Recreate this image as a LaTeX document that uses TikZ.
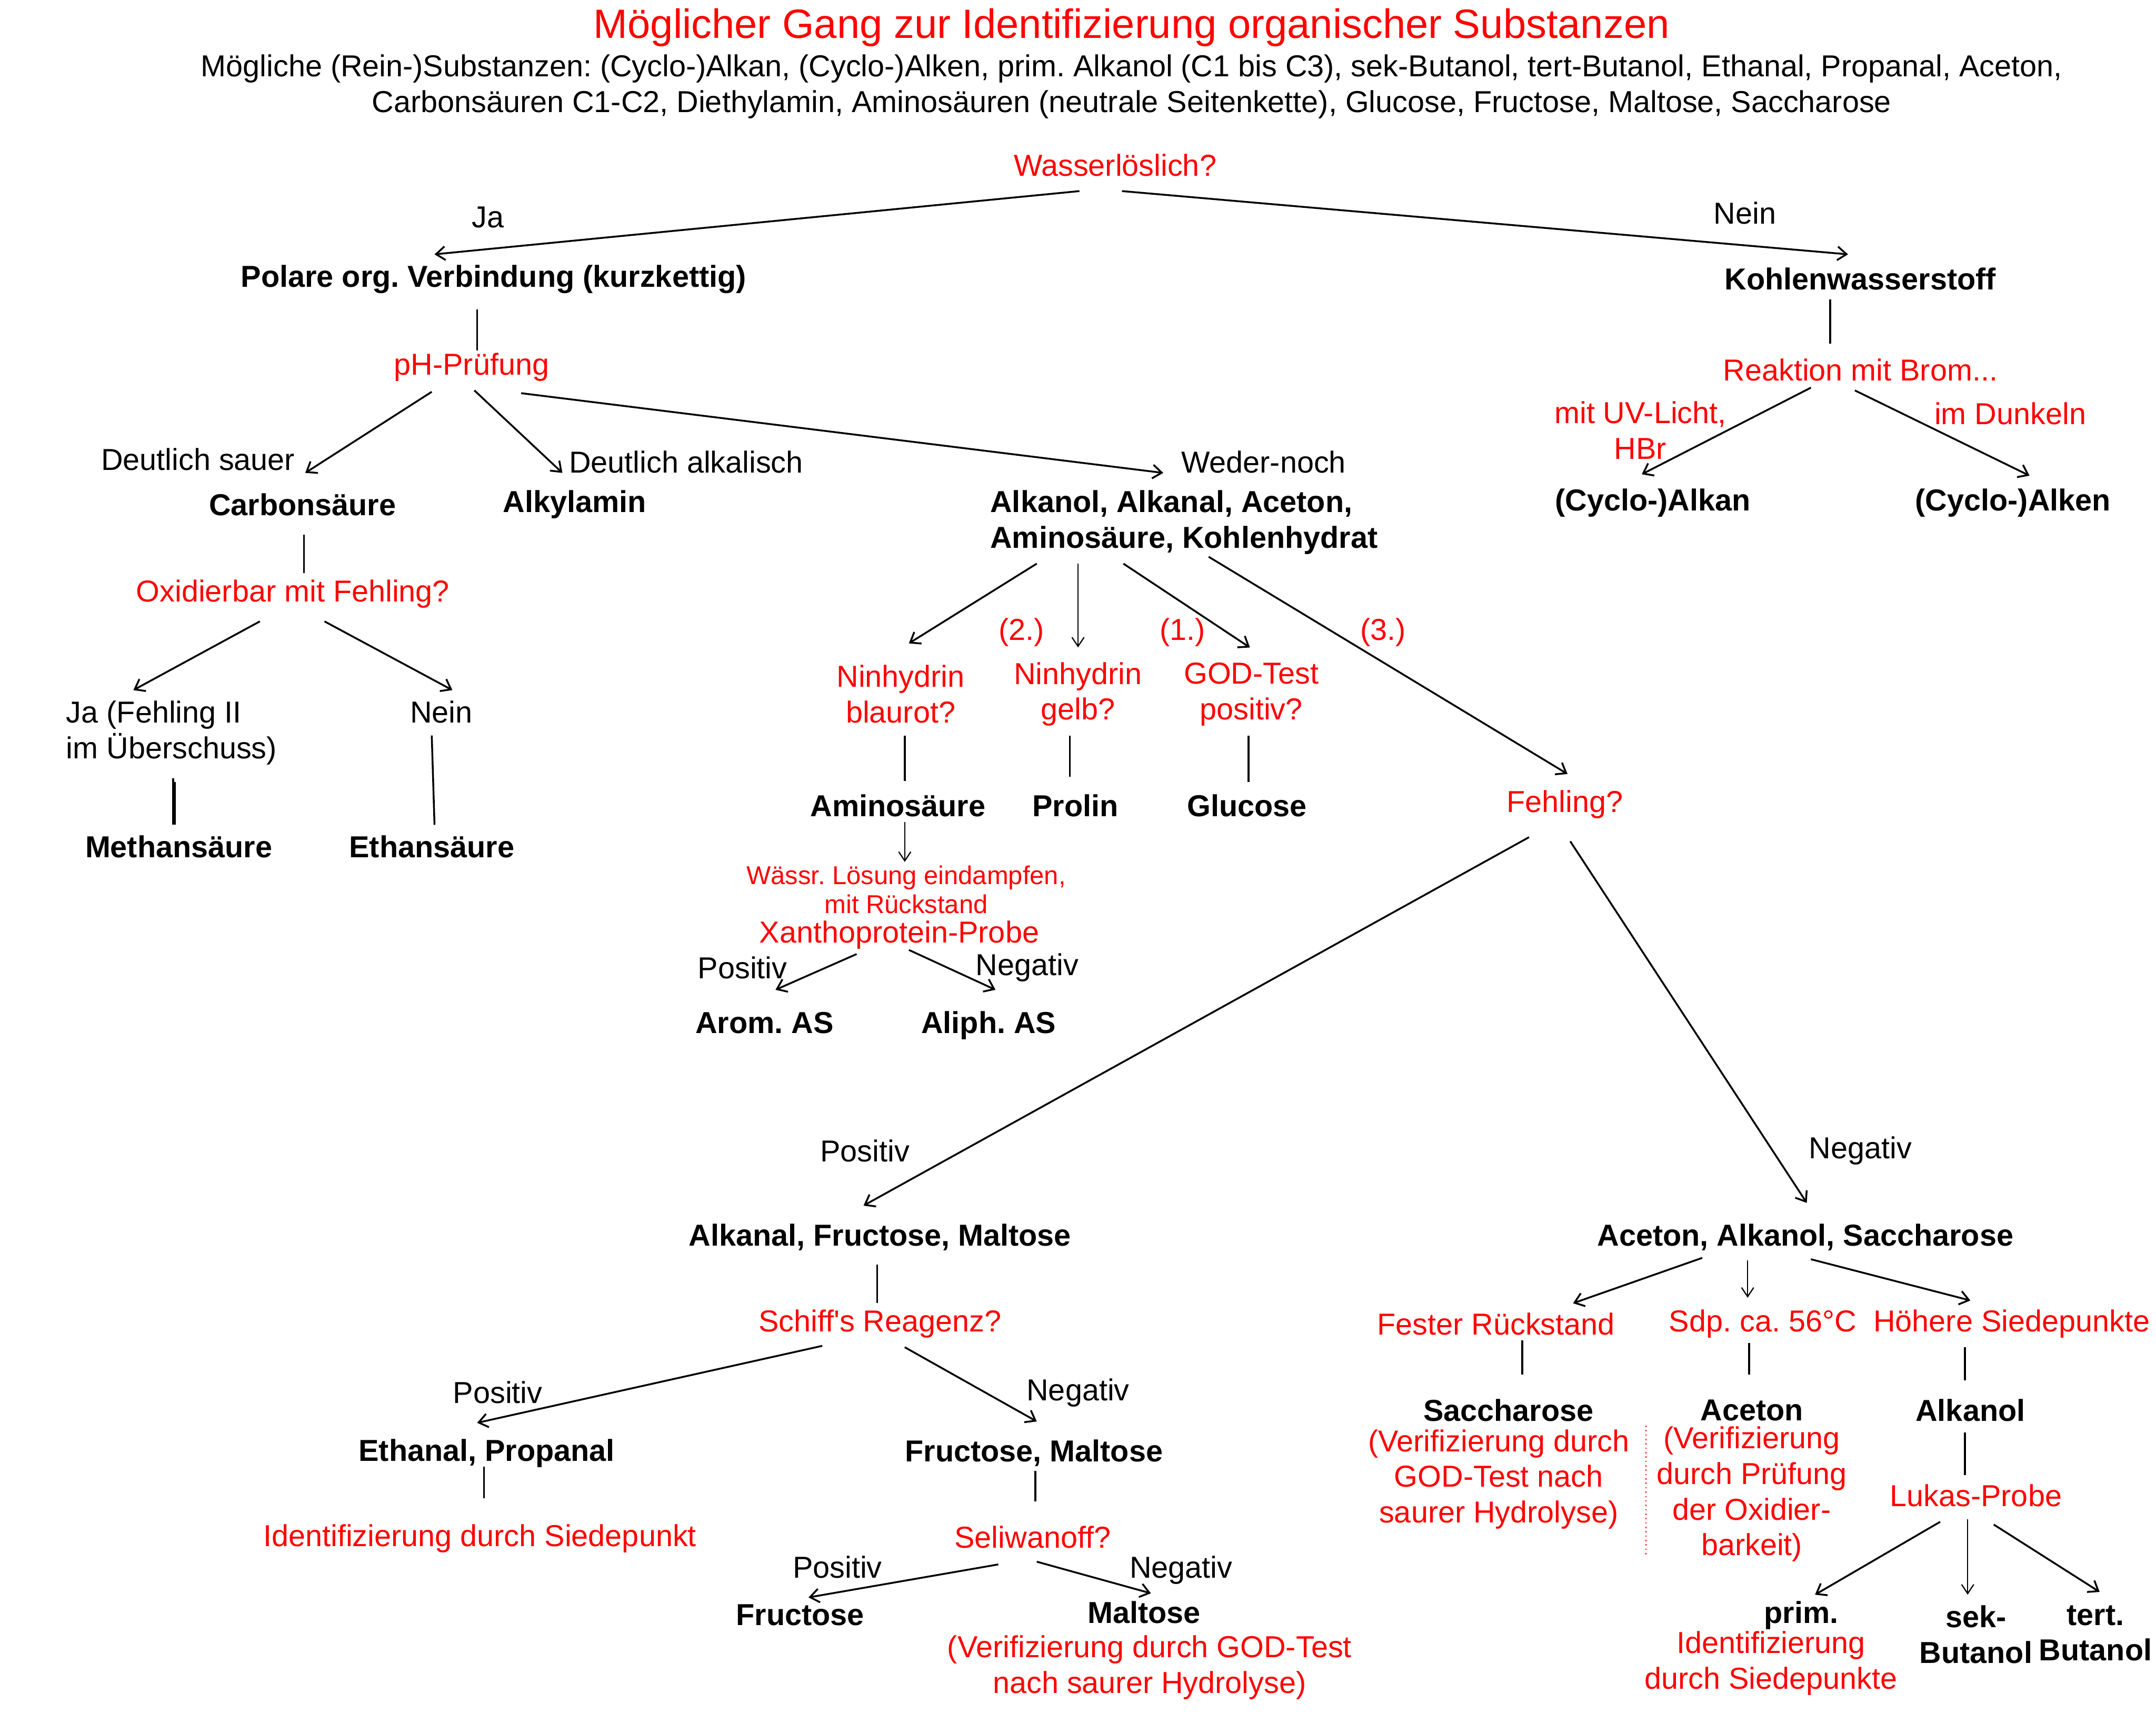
\documentclass[tikz,border=0pt]{standalone}
\usepackage{fontspec}
\setmainfont{Liberation Sans}
\usetikzlibrary{arrows.meta}
\definecolor{qred}{RGB}{255,0,0}
\frenchspacing
\begin{document}
\begin{tikzpicture}[x=0.3189mm,y=-0.3189mm,
  every node/.style={inner sep=0pt, align=center, font=\fontsize{20}{23.5}\selectfont},
  q/.style={text=qred},
  bx/.style={font=\bfseries\fontsize{20}{23.5}\selectfont},
  sm/.style={font=\fontsize{17}{19}\selectfont, text=qred},
  tt/.style={font=\fontsize{27}{30}\selectfont, text=qred},
  ln/.style={line width=1.2pt},
  arr/.style={line width=1.2pt, -{Straight Barb[length=6pt,width=9pt]}},
  arrthin/.style={line width=0.8pt, -{Straight Barb[length=6pt,width=8pt]}},
  dotline/.style={qred, line width=0.9pt, dotted}
]
\useasboundingbox (0,0) rectangle (1568,1254);

% ---------- texts ----------
\node[tt] (title) at (823,20) {Möglicher Gang zur Identifizierung organischer Substanzen};
\node (sub) at (823,63) {Mögliche (Rein-)Substanzen: (Cyclo-)Alkan, (Cyclo-)Alken, prim. Alkanol (C1 bis C3), sek-Butanol, tert-Butanol, Ethanal, Propanal, Aceton,\\Carbonsäuren C1-C2, Diethylamin, Aminosäuren (neutrale Seitenkette), Glucose, Fructose, Maltose, Saccharose};

\node[q] (wass) at (811,120) {Wasserlöslich?};
\node (ja) at (355,158) {Ja};
\node (nein) at (1269,155) {Nein};
\node[bx] (polare) at (359,203) {Polare org. Verbindung (kurzkettig)};
\node[bx] (kw) at (1353,203) {Kohlenwasserstoff};

\node[q] (ph) at (343,267) {pH-Prüfung};
\node (sauer) at (144,334) {Deutlich sauer};
\node (alkal) at (499,336) {Deutlich alkalisch};
\node (weder) at (919,336) {Weder-noch};
\node[bx] (carbon) at (220,367) {Carbonsäure};
\node[bx] (alkylamin) at (418,367) {Alkylamin};
\node[bx, align=left, anchor=west] (mix) at (720,380) {Alkanol, Alkanal, Aceton,\\Aminosäure, Kohlenhydrat};

\node[q] (oxid) at (213,432) {Oxidierbar mit Fehling?};
\node[align=left, anchor=west] (jaF) at (48,533) {Ja (Fehling II\\im Überschuss)};
\node (neinF) at (321,518) {Nein};
\node[bx] (methan) at (130,616) {Methansäure};
\node[bx] (ethan) at (314,616) {Ethansäure};

\node[q] (n2) at (743,460) {(2.)};
\node[q] (n1) at (860,460) {(1.)};
\node[q] (n3) at (1006,460) {(3.)};
\node[q] (ninb) at (655,505) {Ninhydrin\\blaurot?};
\node[q] (ning) at (784,505) {Ninhydrin\\gelb?};
\node[q] (god) at (910,505) {GOD-Test\\positiv?};
\node[bx] (amino) at (653,586) {Aminosäure};
\node[bx] (prolin) at (782,586) {Prolin};
\node[bx] (glucose) at (907,586) {Glucose};
\node[sm] (waessr) at (659,647) {Wässr. Lösung eindampfen,\\mit Rückstand};
\node[q] (xantho) at (654,680) {Xanthoprotein-Probe};
\node (posX) at (540,704) {Positiv};
\node (negX) at (747,704) {Negativ};
\node[bx] (arom) at (556,744) {Arom. AS};
\node[bx] (aliph) at (719,746) {Aliph. AS};

\node[q] (brom) at (1353,269) {Reaktion mit Brom...};
\node[q] (uv) at (1193,313) {mit UV-Licht,\\HBr};
\node[q] (dunkel) at (1462,301) {im Dunkeln};
\node[bx] (alkan) at (1202,366) {(Cyclo-)Alkan};
\node[bx] (alken) at (1464,366) {(Cyclo-)Alken};

\node[q] (fehling) at (1138,585) {Fehling?};
\node (posF) at (629,837) {Positiv};
\node (negF) at (1353,837) {Negativ};
\node[bx] (afm) at (640,900) {Alkanal, Fructose, Maltose};
\node[bx] (aas) at (1313,900) {Aceton, Alkanol, Saccharose};

\node[q] (schiff) at (640,963) {Schiff\textquotesingle s Reagenz?};
\node (posS) at (362,1013) {Positiv};
\node (negS) at (784,1013) {Negativ};
\node[bx] (ep) at (354,1057) {Ethanal, Propanal};
\node[bx] (fm) at (752,1057) {Fructose, Maltose};
\node[q] (idsdp) at (349,1119) {Identifizierung durch Siedepunkt};
\node[q] (seli) at (751,1118) {Seliwanoff?};
\node (posSe) at (609,1140) {Positiv};
\node (negSe) at (859,1142) {Negativ};
\node[bx] (fruct) at (582,1175) {Fructose};
\node[bx] (malt) at (832,1173) {Maltose};
\node[q] (maltv) at (836,1213) {(Verifizierung durch GOD-Test\\nach saurer Hydrolyse)};

\node[q] (fest) at (1088,963) {Fester Rückstand};
\node[q] (sdp) at (1282,963) {Sdp. ca. 56°C};
\node[q] (hoeher) at (1463,963) {Höhere Siedepunkte};
\node[bx] (sacch) at (1097,1026) {Saccharose};
\node[q] (sacchv) at (1090,1076) {(Verifizierung durch\\GOD-Test nach\\saurer Hydrolyse)};
\node[bx] (aceton) at (1274,1026) {Aceton};
\node[q] (acetonv) at (1274,1087) {(Verifizierung\\durch Prüfung\\der Oxidier-\\barkeit)};
\node[bx] (alkanol) at (1433,1026) {Alkanol};
\node[q] (lukas) at (1437,1088) {Lukas-Probe};
\node[bx] (prim) at (1310,1175) {prim.};
\node[q] (primv) at (1288,1210) {Identifizierung\\durch Siedepunkte};
\node[bx] (sek) at (1437,1189) {sek-\\Butanol};
\node[bx] (tert) at (1524,1188) {tert.\\Butanol};

% ---------- connector end points ----------
\coordinate (w1) at (785,139);  \coordinate (w2) at (316,185);
\coordinate (w3) at (816,139);  \coordinate (w4) at (1344,185);
\coordinate (p1) at (347,225);  \coordinate (p2) at (347,255);
\coordinate (h1) at (314,285);  \coordinate (h2) at (222,344);
\coordinate (h3) at (345,284);  \coordinate (h4) at (409,344);
\coordinate (h5) at (379,286);  \coordinate (h6) at (846,344);
\coordinate (c1) at (221,389);  \coordinate (c2) at (221,417);
\coordinate (o1) at (189,452);  \coordinate (o2) at (97,502);
\coordinate (o3) at (236,452);  \coordinate (o4) at (329,502);
\coordinate (j1) at (126,566);  \coordinate (j2) at (126,600);
\coordinate (j3) at (127.2,569);  \coordinate (j4) at (127.2,600);
\coordinate (e1) at (314,535);  \coordinate (e2) at (316,600);
\coordinate (m1) at (754,410);  \coordinate (m2) at (661,468);
\coordinate (m3) at (784,410);  \coordinate (m4) at (784,471);
\coordinate (m5) at (817,410);  \coordinate (m6) at (909,471);
\coordinate (m7) at (879,405);  \coordinate (m8) at (1140,563);
\coordinate (n1a) at (658,535); \coordinate (n1b) at (658,568);
\coordinate (n2a) at (778,535); \coordinate (n2b) at (778,565);
\coordinate (n3a) at (908,535); \coordinate (n3b) at (908,569);
\coordinate (a1) at (658,598);  \coordinate (a2) at (658,627);
\coordinate (x1) at (623,694);  \coordinate (x2) at (564,720);
\coordinate (x3) at (661,691);  \coordinate (x4) at (724,720);
\coordinate (k1) at (1331,218); \coordinate (k2) at (1331,250);
\coordinate (b1) at (1317,282); \coordinate (b2) at (1194,345);
\coordinate (b3) at (1349,284); \coordinate (b4) at (1476,346);
\coordinate (f1) at (1112,609); \coordinate (f2) at (628,877);
\coordinate (f3) at (1142,612); \coordinate (f4) at (1314,875);
\coordinate (s0) at (638,920);  \coordinate (s00) at (638,948);
\coordinate (s1) at (598,979);  \coordinate (s2) at (347,1035);
\coordinate (s3) at (658,980);  \coordinate (s4) at (754,1034);
\coordinate (ep1) at (352,1067); \coordinate (ep2) at (352,1090);
\coordinate (fm1) at (753,1070); \coordinate (fm2) at (753,1092);
\coordinate (se1) at (726,1138); \coordinate (se2) at (588,1162);
\coordinate (se3) at (754,1136); \coordinate (se4) at (837,1159);
\coordinate (r1) at (1238,915); \coordinate (r2) at (1144,948);
\coordinate (r3) at (1271,917); \coordinate (r4) at (1271,944);
\coordinate (r5) at (1317,916); \coordinate (r6) at (1433,946);
\coordinate (t1) at (1107,975); \coordinate (t2) at (1107,1000);
\coordinate (t3) at (1272,977); \coordinate (t4) at (1272,1000);
\coordinate (t5) at (1429,980); \coordinate (t6) at (1429,1004);
\coordinate (l1) at (1429,1042); \coordinate (l2) at (1429,1073);
\coordinate (u1) at (1411,1107); \coordinate (u2) at (1320,1160);
\coordinate (u3) at (1431,1105); \coordinate (u4) at (1431,1160);
\coordinate (u5) at (1450,1109); \coordinate (u6) at (1527,1158);
\coordinate (d1) at (1197,1037); \coordinate (d2) at (1197,1131);

% ---------- connectors ----------
\draw[arr] (w1) -- (w2);
\draw[arr] (w3) -- (w4);
\draw[ln] (p1) -- (p2);
\draw[arr] (h1) -- (h2);
\draw[arr] (h3) -- (h4);
\draw[arr] (h5) -- (h6);
\draw[ln] (c1) -- (c2);
\draw[arr] (o1) -- (o2);
\draw[arr] (o3) -- (o4);
\draw[ln] (j1) -- (j2);
\draw[ln] (j3) -- (j4);
\draw[ln] (e1) -- (e2);
\draw[arr] (m1) -- (m2);
\draw[arrthin] (m3) -- (m4);
\draw[arr] (m5) -- (m6);
\draw[arr] (m7) -- (m8);
\draw[ln] (n1a) -- (n1b);
\draw[ln] (n2a) -- (n2b);
\draw[ln] (n3a) -- (n3b);
\draw[arrthin] (a1) -- (a2);
\draw[arr] (x1) -- (x2);
\draw[arr] (x3) -- (x4);
\draw[ln] (k1) -- (k2);
\draw[arr] (b1) -- (b2);
\draw[arr] (b3) -- (b4);
\draw[arr] (f1) -- (f2);
\draw[arr] (f3) -- (f4);
\draw[ln] (s0) -- (s00);
\draw[arr] (s1) -- (s2);
\draw[arr] (s3) -- (s4);
\draw[ln] (ep1) -- (ep2);
\draw[ln] (fm1) -- (fm2);
\draw[arr] (se1) -- (se2);
\draw[arr] (se3) -- (se4);
\draw[arr] (r1) -- (r2);
\draw[arrthin] (r3) -- (r4);
\draw[arr] (r5) -- (r6);
\draw[ln] (t1) -- (t2);
\draw[ln] (t3) -- (t4);
\draw[ln] (t5) -- (t6);
\draw[ln] (l1) -- (l2);
\draw[arr] (u1) -- (u2);
\draw[arrthin] (u3) -- (u4);
\draw[arr] (u5) -- (u6);
\draw[dotline] (d1) -- (d2);
\end{tikzpicture}
\end{document}
